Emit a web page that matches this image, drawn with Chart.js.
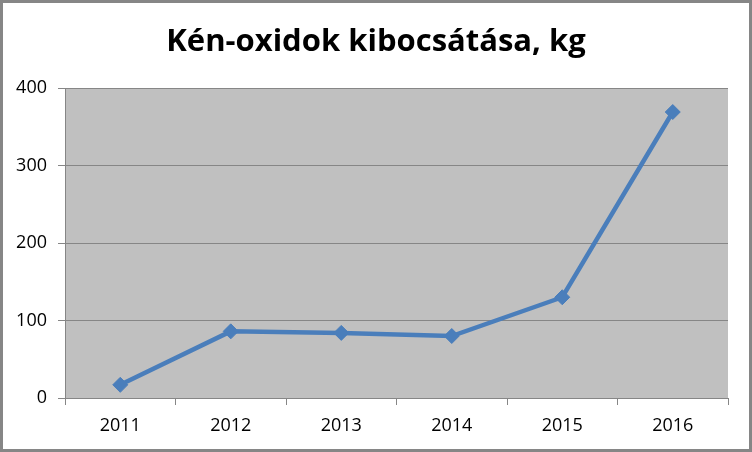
<!DOCTYPE html>
<html>
<head>
<meta charset="utf-8">
<script src="https://cdn.jsdelivr.net/npm/chart.js@4/dist/chart.umd.min.js"></script>
<style>
  html, body { margin: 0; padding: 0; background: #fff; }
  #wrap { width: 752px; height: 452px; box-sizing: border-box; border: 3px solid #868686; background: #fff; }
  canvas { display: block; }
</style>
</head>
<body>
<div id="wrap"><canvas id="c" width="746" height="446"></canvas></div>
<script>
const categories = ["2011", "2012", "2013", "2014", "2015", "2016"];
const emissions = [17, 86, 84, 80, 130, 369];
const yTicks = [0, 100, 200, 300, 400];
const titleText = "Kén-oxidok kibocsátása, kg";

const plotBg = {
  id: 'plotBg',
  beforeDraw(chart) {
    const a = chart.chartArea, ctx = chart.ctx;
    ctx.save();
    ctx.fillStyle = '#C0C0C0';
    ctx.fillRect(a.left, a.top, a.right - a.left, a.bottom - a.top);
    ctx.restore();
  }
};

new Chart(document.getElementById('c'), {
  type: 'line',
  data: {
    labels: categories,
    datasets: [{
      data: emissions,
      borderColor: '#4A7EBB',
      backgroundColor: '#4A7EBB',
      borderWidth: 4.5,
      pointStyle: 'rectRot',
      pointRadius: 7.5,
      pointBorderWidth: 1,
      pointBorderColor: '#4A7EBB',
      tension: 0,
      fill: false
    }]
  },
  options: {
    responsive: false,
    animation: false,
    layout: { padding: { left: 0, right: 0, top: 0, bottom: 0 } },
    plugins: {
      legend: { display: false },
      tooltip: { enabled: false },
      title: {
        display: true,
        text: titleText,
        color: '#000',
        font: { family: 'Open Sans', size: 31, weight: 'bold', lineHeight: 1.2 },
        padding: { top: 20.5, bottom: 27.3 }
      }
    },
    scales: {
      x: {
        type: 'category',
        offset: true,
        grid: { display: true, drawOnChartArea: false, drawTicks: true, tickLength: 7, color: '#868686', offset: true },
        border: { display: true, color: '#868686', width: 1 },
        ticks: { color: '#000', font: { family: 'Open Sans', size: 18 }, padding: 10, maxRotation: 0 },
        afterFit(s) { s.height = 51; }
      },
      y: {
        min: 0, max: 400,
        afterBuildTicks(s) { s.ticks = yTicks.map(v => ({ value: v })); },
        grid: { color: '#868686', lineWidth: 1, drawTicks: true, tickLength: 7 },
        border: { display: true, color: '#868686', width: 1 },
        ticks: { color: '#000', font: { family: 'Open Sans', size: 18 }, padding: 11 },
        afterFit(s) { s.width = 62; }
      },
      spacer: {
        type: 'linear',
        position: 'right',
        display: true,
        grid: { display: false, drawTicks: false },
        border: { display: false },
        ticks: { display: false },
        afterFit(s) { s.width = 21; }
      }
    }
  },
  plugins: [plotBg]
});
</script>
</body>
</html>
